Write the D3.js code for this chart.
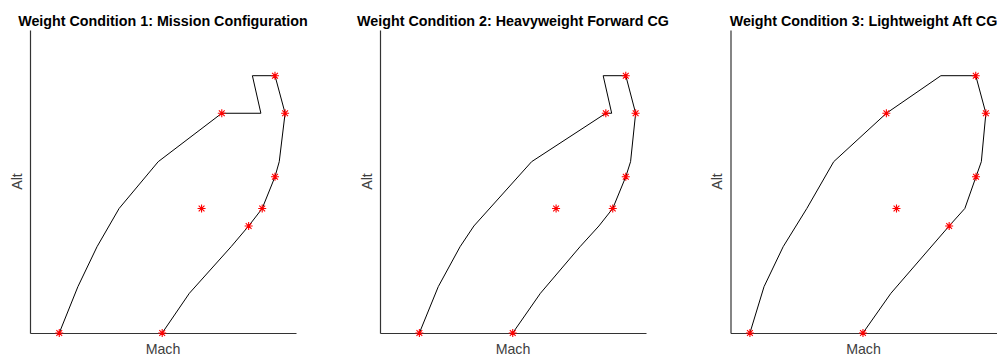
<!DOCTYPE html>
<html>
<head>
<meta charset="utf-8">
<script src="https://cdn.jsdelivr.net/npm/d3@7"></script>
<style>
  html, body { margin: 0; padding: 0; background: #fff; }
  svg { display: block; font-family: "Liberation Sans", Arial, Helvetica, sans-serif; }
</style>
</head>
<body>
<svg id="chart" width="999" height="355"></svg>
<script>
// Flight-envelope boundaries (Mach vs altitude in ft) for three weight conditions.
const titles = [
  "Weight Condition 1: Mission Configuration",
  "Weight Condition 2: Heavyweight Forward CG",
  "Weight Condition 3: Lightweight Aft CG"
];

// Envelope outline, traced from the low-speed sea-level corner, over the top, down to the high-speed corner
const envMach1 = [0.110, 0.180, 0.252, 0.335, 0.482, 0.721, 0.868, 0.836, 0.921, 0.959, 0.937, 0.921, 0.873, 0.822, 0.756, 0.599, 0.497];
const envAlt1  = [0, 7640, 14240, 20550, 28270, 36260, 36260, 42460, 42460, 36260, 28270, 25790, 20550, 17660, 14240, 6550, 0];

const envMach2 = [0.148, 0.219, 0.301, 0.353, 0.570, 0.849, 0.871, 0.839, 0.924, 0.961, 0.942, 0.924, 0.875, 0.823, 0.752, 0.603, 0.499];
const envAlt2  = [0, 7640, 14240, 17660, 28270, 36260, 36260, 42460, 42460, 36260, 28270, 25790, 20550, 17660, 14240, 6550, 0];

const envMach3 = [0.073, 0.126, 0.198, 0.287, 0.388, 0.586, 0.791, 0.922, 0.960, 0.943, 0.923, 0.881, 0.822, 0.603, 0.498];
const envAlt3  = [0, 7640, 14240, 20550, 28270, 36260, 42460, 42460, 36260, 28270, 25790, 20550, 17660, 6550, 0];

// Test points flown for each condition
const ptMach1 = [0.110, 0.721, 0.921, 0.959, 0.921, 0.873, 0.822, 0.497, 0.645];
const ptAlt1  = [0, 36260, 42460, 36260, 25790, 20550, 17660, 0, 20550];

const ptMach2 = [0.148, 0.849, 0.924, 0.961, 0.924, 0.875, 0.499, 0.662];
const ptAlt2  = [0, 36260, 42460, 36260, 25790, 20550, 0, 20550];

const ptMach3 = [0.073, 0.586, 0.922, 0.960, 0.923, 0.822, 0.498, 0.624];
const ptAlt3  = [0, 36260, 42460, 36260, 25790, 17660, 0, 20550];

const machDomain = [0, 1];
const altDomain = [0, 50000];

const panels = [
  { title: titles[0], envM: envMach1, envA: envAlt1, ptM: ptMach1, ptA: ptAlt1 },
  { title: titles[1], envM: envMach2, envA: envAlt2, ptM: ptMach2, ptA: ptAlt2 },
  { title: titles[2], envM: envMach3, envA: envAlt3, ptM: ptMach3, ptA: ptAlt3 }
];

const svg = d3.select("#chart");
const plotW = 266, plotH = 303, plotTop = 30;
const lefts = [30, 380, 730.5];

const x = d3.scaleLinear().domain(machDomain).range([0, plotW]);
const y = d3.scaleLinear().domain(altDomain).range([plotH, 0]);

// '*' marker: plus and cross overlaid
const r = 4, rd = 2.9;
const starPath = `M${-r},0H${r}M0,${-r}V${r}M${-rd},${-rd}L${rd},${rd}M${-rd},${rd}L${rd},${-rd}`;

panels.forEach((p, i) => {
  const g = svg.append("g").attr("transform", `translate(${lefts[i]},${plotTop})`);

  g.append("g")
    .attr("transform", `translate(0,${plotH})`)
    .call(d3.axisBottom(x).tickValues([]).tickSizeOuter(0))
    .select(".domain").attr("stroke", "#333").attr("stroke-width", 1.2);

  g.append("g")
    .call(d3.axisLeft(y).tickValues([]).tickSizeOuter(0))
    .select(".domain").attr("stroke", "#333").attr("stroke-width", 1.2);

  const env = d3.range(p.envM.length).map(k => [p.envM[k], p.envA[k]]);
  g.append("path")
    .datum(env)
    .attr("fill", "none")
    .attr("stroke", "#000")
    .attr("stroke-width", 1)
    .attr("stroke-linejoin", "miter")
    .attr("d", d3.line().x(d => x(d[0])).y(d => y(d[1])));

  const pts = d3.range(p.ptM.length).map(k => [p.ptM[k], p.ptA[k]]);
  g.selectAll(".pt")
    .data(pts)
    .join("path")
    .attr("class", "pt")
    .attr("transform", d => `translate(${x(d[0])},${y(d[1])})`)
    .attr("d", starPath)
    .attr("fill", "none")
    .attr("stroke", "#ff0000")
    .attr("stroke-width", 1.1);

  g.append("text")
    .attr("x", plotW / 2)
    .attr("y", -4.5)
    .attr("text-anchor", "middle")
    .attr("font-size", "14.3px")
    .attr("font-weight", "bold")
    .attr("fill", "#000")
    .text(p.title);

  g.append("text")
    .attr("x", plotW / 2)
    .attr("y", plotH + 20.5)
    .attr("text-anchor", "middle")
    .attr("font-size", "14.2px")
    .attr("fill", "#404040")
    .text("Mach");

  g.append("text")
    .attr("transform", `translate(-8.5,${plotH / 2}) rotate(-90)`)
    .attr("text-anchor", "middle")
    .attr("font-size", "14.2px")
    .attr("fill", "#404040")
    .text("Alt");
});
</script>
</body>
</html>
